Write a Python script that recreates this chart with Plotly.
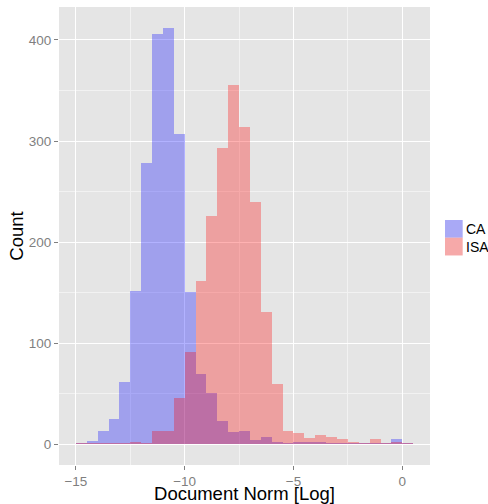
import plotly.graph_objects as go

# Bin left edges (bin width 0.5)
bin_left = [-15.0 + 0.5 * i for i in range(31)]

ca_counts = [1, 3, 13, 25, 62, 152, 278, 406, 412, 307, 151, 69, 51, 23, 12, 13,
             4, 7, 2, 1, 2, 2, 2, 1, 1, 1, 1, 1, 1, 5, 1]
isa_counts = [1, 1, 1, 1, 1, 2, 1, 13, 13, 46, 91, 161, 226, 293, 355, 314,
              240, 131, 60, 13, 11, 6, 9, 7, 5, 2, 1, 5, 1, 2, 1]

series_names = ["CA", "ISA"]
series_fill = ["rgba(0,0,255,0.3)", "rgba(255,0,0,0.3)"]
legend_key_fill = ["rgb(169,169,246)", "rgb(246,169,169)"]

bin_width = 0.5
centers = [b + bin_width / 2 for b in bin_left]

x_ticks = [-15, -10, -5, 0]
y_ticks = [0, 100, 200, 300, 400]

FONT = "Liberation Sans, Arial, sans-serif"

fig = go.Figure()
for name, counts, fill in zip(series_names, [ca_counts, isa_counts], series_fill):
    fig.add_trace(go.Bar(x=centers, y=counts, width=bin_width, name=name,
                         marker=dict(color=fill, line=dict(width=0)),
                         showlegend=False))

# legend drawn as keys + labels to the right of the panel (ggplot style)
key_x0, key_x1 = 1.0404, 1.0881
key_tops = [0.5349, 0.4963]
key_h = 0.0388
shapes = []
annotations = []
for name, kf, top in zip(series_names, legend_key_fill, key_tops):
    shapes.append(dict(type="rect", xref="paper", yref="paper",
                       x0=key_x0, x1=key_x1, y0=top - key_h, y1=top,
                       fillcolor=kf, line=dict(width=0), layer="above"))
    annotations.append(dict(text=name, xref="paper", yref="paper",
                            x=1.0925, y=top - key_h / 2, xanchor="left", yanchor="middle",
                            showarrow=False, font=dict(size=14, color="black")))

fig.update_layout(
    width=488, height=504,
    barmode="overlay", bargap=0,
    paper_bgcolor="white", plot_bgcolor="#E5E5E5",
    margin=dict(l=59, r=58, t=7, b=39, autoexpand=False),
    font=dict(family=FONT, size=13, color="black"),
    showlegend=False,
    shapes=shapes, annotations=annotations,
)
fig.update_xaxes(
    range=[-15.775, 1.275], tickvals=x_ticks,
    ticktext=["\u221215", "\u221210", "\u22125", "0"],
    showgrid=True, gridcolor="white", gridwidth=1.1, zeroline=False,
    ticks="outside", ticklen=4, tickcolor="#7F7F7F", tickwidth=1,
    tickfont=dict(size=13.5, color="#7F7F7F"),
    minor=dict(tickvals=[-12.5, -7.5, -2.5], showgrid=True, gridcolor="#F2F2F2", gridwidth=0.6),
    title=dict(text="Document Norm [Log]", font=dict(size=18.5, color="black"), standoff=1),
    automargin=False, showline=False,
)
fig.update_yaxes(
    range=[-20.6, 432.6], tickvals=y_ticks,
    showgrid=True, gridcolor="white", gridwidth=1.1, zeroline=False,
    ticks="outside", ticklen=4, tickcolor="#7F7F7F", tickwidth=1,
    tickfont=dict(size=13.5, color="#7F7F7F"),
    minor=dict(tickvals=[50, 150, 250, 350], showgrid=True, gridcolor="#F2F2F2", gridwidth=0.6),
    title=dict(text="Count", font=dict(size=18.5, color="black"), standoff=0),
    automargin=False, showline=False,
)

fig.write_html("out.html",
               config={"displayModeBar": False},
               post_script="document.body.style.margin='0';document.body.style.overflow='hidden';")
